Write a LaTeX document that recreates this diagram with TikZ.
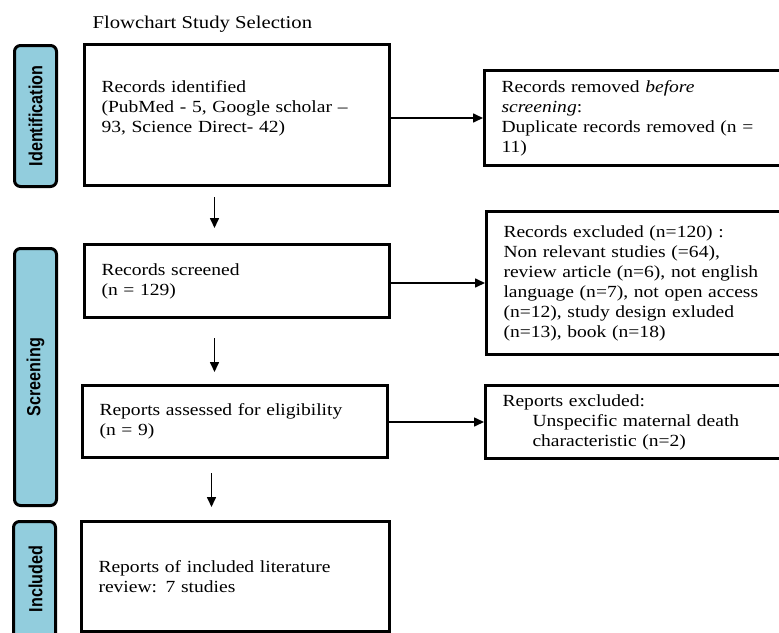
\documentclass[tikz,border=0pt]{standalone}
\usepackage{fontspec}
\setmainfont{Liberation Serif}[FakeStretch=1.15]
\newfontfamily\sidefont{Liberation Sans}[FakeStretch=0.85]
\usetikzlibrary{arrows.meta}

\definecolor{sideblue}{RGB}{146,205,221}

\begin{document}
\begin{tikzpicture}[x=1pt, y=-1pt,
  box/.style={draw, line width=3pt, inner xsep=17pt, inner ysep=4pt, align=left,
    anchor=north west, font=\fontsize{17}{20}\selectfont},
  sidebox/.style={draw, line width=3pt, rounded corners=6pt, fill=sideblue,
    minimum width=42pt, anchor=north west, inner sep=0pt},
  sidetext/.style={rotate=90, font=\sidefont\bfseries\fontsize{19}{19}\selectfont},
  flow/.style={line width=1.6pt, -{Triangle[length=10pt,width=9pt]}}]
\useasboundingbox (0,0) rectangle (779,632);
\clip (0,0) rectangle (779,632);

\node[anchor=base west, font=\fontsize{18}{20}\selectfont] (title) at (89,28) {Flowchart Study Selection};

% stage boxes on the left
\node[sidebox, minimum height=141pt] (sid) at (13,44) {};
\node[sidetext] (tid) at (sid.center) {Identification};
\node[sidebox, minimum height=257pt] (sscr) at (13,247) {};
\node[sidetext] (tscr) at (sscr.center) {Screening};
\node[sidebox, minimum height=125pt] (sinc) at (12,520) {};
\node[sidetext] (tinc) at (sid.center |- 0,579) {Included};

% main column
\node[box, text width=271pt, minimum height=141pt] (id) at (83,43)
  {Records identified\\(PubMed - 5, Google scholar –\\93, Science Direct- 42)\\[-4pt]\mbox{}};
\node[box, text width=271pt, minimum height=73pt] (scr) at (83,243)
  {Records screened\\(n = 129)};
\node[box, text width=271pt, minimum height=72pt] (ass) at (81,384)
  {Reports assessed for eligibility\\(n = 9)};
\node[box, text width=274pt, minimum height=110pt] (inc) at (80,520)
  {Reports of included literature\\review: 7 studies};

% excluded column
\node[box, text width=290pt, minimum height=95pt] (rem) at (483,69)
  {Records removed \textit{before}\\\textit{screening}:\\Duplicate records removed (n =\\11)};
\node[box, text width=290pt, minimum height=143pt] (exc) at (485,210)
  {Records excluded (n=120) :\\Non relevant studies (=64),\\review article (n=6), not english\\language (n=7), not open access\\(n=12), study design exluded\\(n=13), book (n=18)};
\node[box, text width=290pt, minimum height=73pt] (rex) at (484,384)
  {Reports excluded:\\\hspace*{30pt}Unspecific maternal death\\\hspace*{30pt}characteristic (n=2)};

% arrows
\draw[flow] (id.east |- rem.west) -- (rem.west);
\draw[flow] (scr.east |- exc.west) -- (exc.west);
\draw[flow] (ass.east |- rex.west) -- (rex.west);

\coordinate (a1) at ([xshift=-22.5pt]id.south);
\coordinate (a2) at ([xshift=-22.5pt]scr.south);
\coordinate (a3) at ([xshift=-23.5pt]ass.south);
\draw[flow, shorten <=10pt, shorten >=15pt] (a1) -- (a1 |- scr.north);
\draw[flow, shorten <=19pt, shorten >=12pt] (a2) -- (a2 |- ass.north);
\draw[flow, shorten <=14pt, shorten >=13pt] (a3) -- (a3 |- inc.north);
\end{tikzpicture}
\end{document}
